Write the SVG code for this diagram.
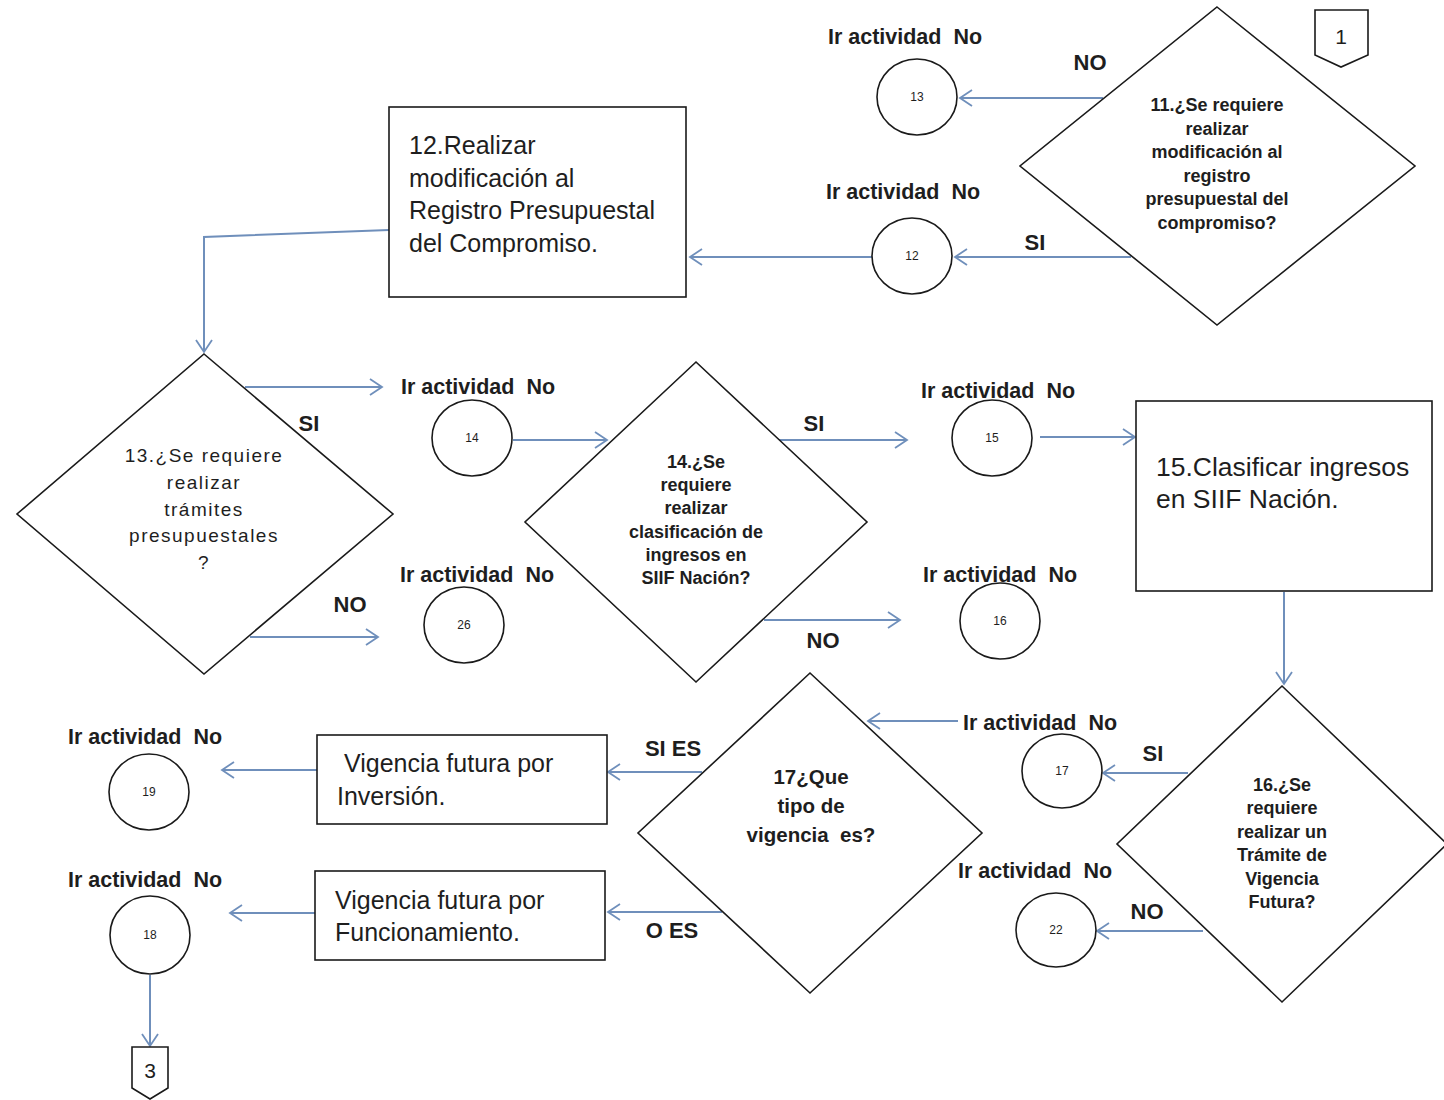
<svg xmlns="http://www.w3.org/2000/svg" width="1444" height="1100" viewBox="0 0 1444 1100">
<style>
text{font-family:"Liberation Sans",Arial,sans-serif;fill:#1e1e1e;white-space:pre}
.shape{fill:#fff;stroke:#1a1a1a;stroke-width:1.6}
.dq{font-size:18px;font-weight:bold;text-anchor:middle}
.dq.big{font-size:20.5px}
.dr{font-size:19px;text-anchor:middle;letter-spacing:1.5px}
.bx{font-size:25px}
.bx.big{font-size:26.5px}
.lab{font-size:21.5px;font-weight:bold;text-anchor:middle}
.yn{font-size:22px;font-weight:bold;text-anchor:middle}
.num{font-size:12px;text-anchor:middle}
.conn path{fill:none;stroke:#6f8fbb;stroke-width:2;marker-end:url(#arr)}
</style>
<defs>
<marker id="arr" markerUnits="userSpaceOnUse" markerWidth="16" markerHeight="20" refX="13" refY="10" orient="auto">
<path d="M1,2 L13,10 L1,18" fill="none" stroke="#6f8fbb" stroke-width="1.8"/>
</marker>
</defs>
<rect width="1444" height="1100" fill="#fff"/>

<g id="conn" class="conn">
<path d="M1103,98 H960"/>
<path d="M1131,257 H955"/>
<path d="M872,257 H690"/>
<path d="M389,230 L204,237 V352"/>
<path d="M245,387 H382"/>
<path d="M250,637 H378"/>
<path d="M513,440 H607"/>
<path d="M777,440 H907"/>
<path d="M764,620 H900"/>
<path d="M1040,437 H1135"/>
<path d="M1284,592 V684"/>
<path d="M1188,773 H1103"/>
<path d="M1203,931 H1097"/>
<path d="M958,721 H868"/>
<path d="M702,772 H608"/>
<path d="M722,912 H608"/>
<path d="M317,770 H222"/>
<path d="M315,913 H230"/>
<path d="M150,975 V1046"/>
</g>

<g id="off1">
<path class="shape" d="M1315,10 H1368 V55 L1341,67 L1315,55 Z"/>
<text x="1341" y="44" font-size="21" text-anchor="middle">1</text>
</g>

<g id="d11">
<path class="shape" d="M1217,7 L1415,166 L1217,325 L1020,166 Z"/>
<text class="dq" x="1217" y="111">11.¿Se requiere</text>
<text class="dq" x="1217" y="135">realizar</text>
<text class="dq" x="1217" y="158">modificación al</text>
<text class="dq" x="1217" y="182">registro</text>
<text class="dq" x="1217" y="205">presupuestal del</text>
<text class="dq" x="1217" y="229">compromiso?</text>
</g>
<g id="lbl11"><text class="yn" x="1090" y="70">NO</text><text class="yn" x="1035" y="250">SI</text></g>

<g id="c13">
<text class="lab" x="905" y="44">Ir actividad  No</text>
<ellipse class="shape" cx="917" cy="97" rx="40" ry="38"/>
<text class="num" x="917" y="101">13</text>
</g>
<g id="c12">
<text class="lab" x="903" y="199">Ir actividad  No</text>
<ellipse class="shape" cx="912" cy="256" rx="40" ry="38"/>
<text class="num" x="912" y="260">12</text>
</g>

<g id="b12">
<rect class="shape" x="389" y="107" width="297" height="190"/>
<text class="bx" x="409" y="154">12.Realizar</text>
<text class="bx" x="409" y="187">modificación al</text>
<text class="bx" x="409" y="219">Registro Presupuestal</text>
<text class="bx" x="409" y="252">del Compromiso.</text>
</g>

<g id="d13">
<path class="shape" d="M204,354 L393,514 L204,674 L17,514 Z"/>
<text class="dr" x="204" y="462">13.¿Se requiere</text>
<text class="dr" x="204" y="489">realizar</text>
<text class="dr" x="204" y="516">trámites</text>
<text class="dr" x="204" y="542">presupuestales</text>
<text class="dr" x="204" y="569">?</text>
</g>
<g id="lbl13"><text class="yn" x="309" y="431">SI</text><text class="yn" x="350" y="612">NO</text></g>

<g id="c14">
<text class="lab" x="478" y="394">Ir actividad  No</text>
<ellipse class="shape" cx="472" cy="438" rx="40" ry="38"/>
<text class="num" x="472" y="442">14</text>
</g>
<g id="c26">
<text class="lab" x="477" y="582">Ir actividad  No</text>
<ellipse class="shape" cx="464" cy="625" rx="40" ry="38"/>
<text class="num" x="464" y="629">26</text>
</g>

<g id="d14">
<path class="shape" d="M696,362 L867,522 L696,682 L525,522 Z"/>
<text class="dq" x="696" y="468">14.¿Se</text>
<text class="dq" x="696" y="491">requiere</text>
<text class="dq" x="696" y="514">realizar</text>
<text class="dq" x="696" y="538">clasificación de</text>
<text class="dq" x="696" y="561">ingresos en</text>
<text class="dq" x="696" y="584">SIIF Nación?</text>
</g>
<g id="lbl14"><text class="yn" x="814" y="431">SI</text><text class="yn" x="823" y="648">NO</text></g>

<g id="c15">
<text class="lab" x="998" y="398">Ir actividad  No</text>
<ellipse class="shape" cx="992" cy="438" rx="40" ry="38"/>
<text class="num" x="992" y="442">15</text>
</g>
<g id="c16">
<text class="lab" x="1000" y="582">Ir actividad  No</text>
<ellipse class="shape" cx="1000" cy="621" rx="40" ry="38"/>
<text class="num" x="1000" y="625">16</text>
</g>

<g id="b15">
<rect class="shape" x="1136" y="401" width="296" height="190"/>
<text class="bx big" x="1156" y="476">15.Clasificar ingresos</text>
<text class="bx big" x="1156" y="508">en SIIF Nación.</text>
</g>

<g id="d16">
<path class="shape" d="M1282,686 L1447,844 L1282,1002 L1117,844 Z"/>
<text class="dq" x="1282" y="791">16.¿Se</text>
<text class="dq" x="1282" y="814">requiere</text>
<text class="dq" x="1282" y="838">realizar un</text>
<text class="dq" x="1282" y="861">Trámite de</text>
<text class="dq" x="1282" y="885">Vigencia</text>
<text class="dq" x="1282" y="908">Futura?</text>
</g>
<g id="lbl16"><text class="yn" x="1153" y="761">SI</text><text class="yn" x="1147" y="919">NO</text></g>

<g id="c17">
<text class="lab" x="1040" y="730">Ir actividad  No</text>
<ellipse class="shape" cx="1062" cy="771" rx="40" ry="37"/>
<text class="num" x="1062" y="775">17</text>
</g>
<g id="c22">
<text class="lab" x="1035" y="878">Ir actividad  No</text>
<ellipse class="shape" cx="1056" cy="930" rx="40" ry="37"/>
<text class="num" x="1056" y="934">22</text>
</g>

<g id="d17">
<path class="shape" d="M810,673 L982,833 L810,993 L638,833 Z"/>
<text class="dq big" x="811" y="784">17¿Que</text>
<text class="dq big" x="811" y="813">tipo de</text>
<text class="dq big" x="811" y="842">vigencia  es?</text>
</g>
<g id="lbl17"><text class="yn" x="673" y="756">SI ES</text><text class="yn" x="672" y="938">O ES</text></g>

<g id="bInv">
<rect class="shape" x="317" y="735" width="290" height="89"/>
<text class="bx" x="337" y="772"> Vigencia futura por</text>
<text class="bx" x="337" y="805">Inversión.</text>
</g>
<g id="bFun">
<rect class="shape" x="315" y="871" width="290" height="89"/>
<text class="bx" x="335" y="909">Vigencia futura por</text>
<text class="bx" x="335" y="941">Funcionamiento.</text>
</g>

<g id="c19">
<text class="lab" x="145" y="744">Ir actividad  No</text>
<ellipse class="shape" cx="149" cy="792" rx="40" ry="38"/>
<text class="num" x="149" y="796">19</text>
</g>
<g id="c18">
<text class="lab" x="145" y="887">Ir actividad  No</text>
<ellipse class="shape" cx="150" cy="935" rx="40" ry="39"/>
<text class="num" x="150" y="939">18</text>
</g>

<g id="off3">
<path class="shape" d="M132,1047 H168 V1088 L150,1099 L132,1088 Z"/>
<text x="150" y="1078" font-size="21" text-anchor="middle">3</text>
</g>
</svg>
